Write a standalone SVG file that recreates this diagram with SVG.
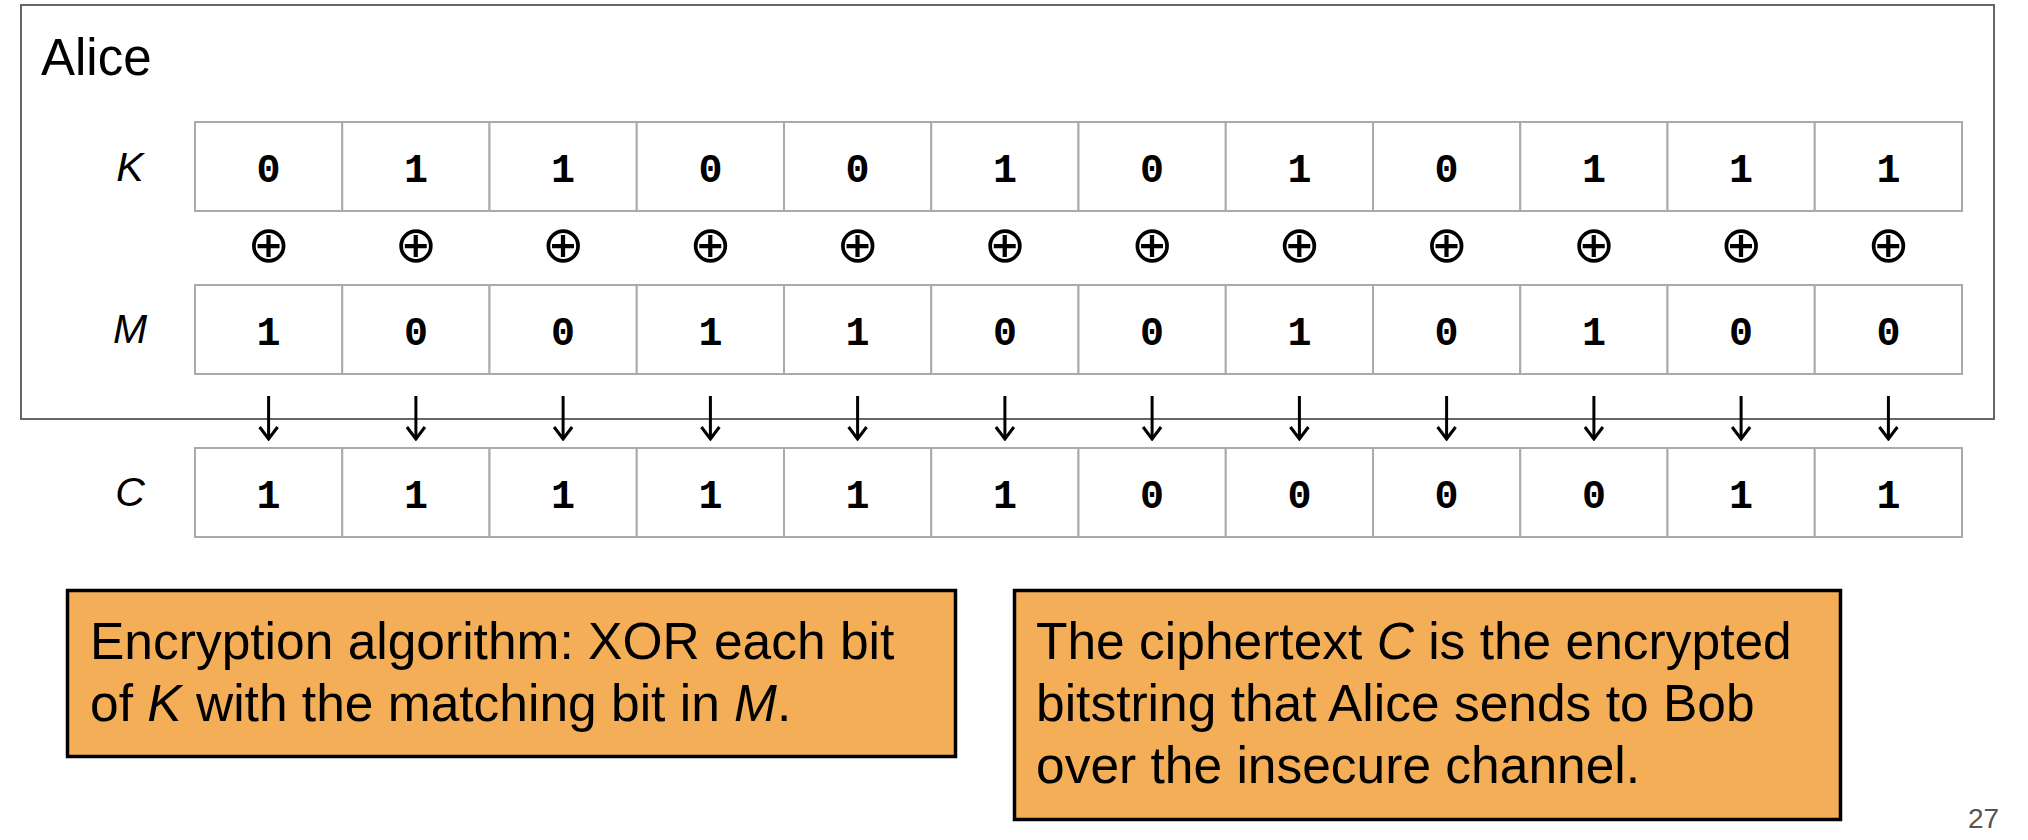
<svg xmlns="http://www.w3.org/2000/svg" width="2028" height="840" viewBox="0 0 2028 840">
<style>
.bg{fill:#ffffff}
.frame{fill:none;stroke:#666666;stroke-width:2}
.cell{fill:#ffffff;stroke:#aaaaaa;stroke-width:2}
.bit{font-family:"Liberation Mono","Courier New",monospace;font-weight:bold;font-size:40px;text-anchor:middle;fill:#000}
.lbl{font-family:"Liberation Sans",Arial,sans-serif;font-style:italic;font-size:41px;text-anchor:middle;fill:#000}
.xor{font-family:"DejaVu Sans",sans-serif;font-size:51px;text-anchor:middle;fill:#000}
.title{font-family:"Liberation Sans",Arial,sans-serif;font-size:51px;fill:#000}
.note{fill:#F4AE58;stroke:#000;stroke-width:3.5}
.nt{font-family:"Liberation Sans",Arial,sans-serif;font-size:51.5px;fill:#000}
.it{font-style:italic}
.arr{fill:none;stroke:#000;stroke-width:3}
.pg{font-family:"Liberation Sans",Arial,sans-serif;font-size:28px;fill:#555555}
</style>
<defs>
<marker id="chev" markerUnits="userSpaceOnUse" viewBox="-2 -2 16 22" markerWidth="16" markerHeight="22" refX="12" refY="9" orient="auto">
<path d="M0,0 L12,9 L0,18" fill="none" stroke="#000" stroke-width="3"/>
</marker>
</defs>
<rect class="bg" x="0" y="0" width="2028" height="840"/>
<g id="alice">
<rect class="frame" x="21" y="5" width="1973" height="414"/>
<text class="title" x="41" y="75">Alice</text>
</g>
<g id="rowK">
<text class="lbl" x="130" y="181">K</text>
<rect class="cell" x="195" y="122" width="147.25" height="89"/>
<rect class="cell" x="342.25" y="122" width="147.25" height="89"/>
<rect class="cell" x="489.5" y="122" width="147.25" height="89"/>
<rect class="cell" x="636.75" y="122" width="147.25" height="89"/>
<rect class="cell" x="784" y="122" width="147.25" height="89"/>
<rect class="cell" x="931.25" y="122" width="147.25" height="89"/>
<rect class="cell" x="1078.5" y="122" width="147.25" height="89"/>
<rect class="cell" x="1225.75" y="122" width="147.25" height="89"/>
<rect class="cell" x="1373" y="122" width="147.25" height="89"/>
<rect class="cell" x="1520.25" y="122" width="147.25" height="89"/>
<rect class="cell" x="1667.5" y="122" width="147.25" height="89"/>
<rect class="cell" x="1814.75" y="122" width="147.25" height="89"/>
<text class="bit" x="268.6" y="182">0</text>
<text class="bit" x="415.9" y="182">1</text>
<text class="bit" x="563.1" y="182">1</text>
<text class="bit" x="710.4" y="182">0</text>
<text class="bit" x="857.6" y="182">0</text>
<text class="bit" x="1004.9" y="182">1</text>
<text class="bit" x="1152.1" y="182">0</text>
<text class="bit" x="1299.4" y="182">1</text>
<text class="bit" x="1446.6" y="182">0</text>
<text class="bit" x="1593.9" y="182">1</text>
<text class="bit" x="1741.1" y="182">1</text>
<text class="bit" x="1888.4" y="182">1</text>
</g>
<g id="xors">
<text class="xor" x="268.6" y="262">⊕</text>
<text class="xor" x="415.9" y="262">⊕</text>
<text class="xor" x="563.1" y="262">⊕</text>
<text class="xor" x="710.4" y="262">⊕</text>
<text class="xor" x="857.6" y="262">⊕</text>
<text class="xor" x="1004.9" y="262">⊕</text>
<text class="xor" x="1152.1" y="262">⊕</text>
<text class="xor" x="1299.4" y="262">⊕</text>
<text class="xor" x="1446.6" y="262">⊕</text>
<text class="xor" x="1593.9" y="262">⊕</text>
<text class="xor" x="1741.1" y="262">⊕</text>
<text class="xor" x="1888.4" y="262">⊕</text>
</g>
<g id="rowM">
<text class="lbl" x="130" y="343">M</text>
<rect class="cell" x="195" y="285" width="147.25" height="89"/>
<rect class="cell" x="342.25" y="285" width="147.25" height="89"/>
<rect class="cell" x="489.5" y="285" width="147.25" height="89"/>
<rect class="cell" x="636.75" y="285" width="147.25" height="89"/>
<rect class="cell" x="784" y="285" width="147.25" height="89"/>
<rect class="cell" x="931.25" y="285" width="147.25" height="89"/>
<rect class="cell" x="1078.5" y="285" width="147.25" height="89"/>
<rect class="cell" x="1225.75" y="285" width="147.25" height="89"/>
<rect class="cell" x="1373" y="285" width="147.25" height="89"/>
<rect class="cell" x="1520.25" y="285" width="147.25" height="89"/>
<rect class="cell" x="1667.5" y="285" width="147.25" height="89"/>
<rect class="cell" x="1814.75" y="285" width="147.25" height="89"/>
<text class="bit" x="268.6" y="345">1</text>
<text class="bit" x="415.9" y="345">0</text>
<text class="bit" x="563.1" y="345">0</text>
<text class="bit" x="710.4" y="345">1</text>
<text class="bit" x="857.6" y="345">1</text>
<text class="bit" x="1004.9" y="345">0</text>
<text class="bit" x="1152.1" y="345">0</text>
<text class="bit" x="1299.4" y="345">1</text>
<text class="bit" x="1446.6" y="345">0</text>
<text class="bit" x="1593.9" y="345">1</text>
<text class="bit" x="1741.1" y="345">0</text>
<text class="bit" x="1888.4" y="345">0</text>
</g>
<g id="connectors">
<path class="arr" marker-end="url(#chev)" d="M268.6,396 V439"/>
<path class="arr" marker-end="url(#chev)" d="M415.9,396 V439"/>
<path class="arr" marker-end="url(#chev)" d="M563.1,396 V439"/>
<path class="arr" marker-end="url(#chev)" d="M710.4,396 V439"/>
<path class="arr" marker-end="url(#chev)" d="M857.6,396 V439"/>
<path class="arr" marker-end="url(#chev)" d="M1004.9,396 V439"/>
<path class="arr" marker-end="url(#chev)" d="M1152.1,396 V439"/>
<path class="arr" marker-end="url(#chev)" d="M1299.4,396 V439"/>
<path class="arr" marker-end="url(#chev)" d="M1446.6,396 V439"/>
<path class="arr" marker-end="url(#chev)" d="M1593.9,396 V439"/>
<path class="arr" marker-end="url(#chev)" d="M1741.1,396 V439"/>
<path class="arr" marker-end="url(#chev)" d="M1888.4,396 V439"/>
</g>
<g id="rowC">
<text class="lbl" x="130" y="506">C</text>
<rect class="cell" x="195" y="448" width="147.25" height="89"/>
<rect class="cell" x="342.25" y="448" width="147.25" height="89"/>
<rect class="cell" x="489.5" y="448" width="147.25" height="89"/>
<rect class="cell" x="636.75" y="448" width="147.25" height="89"/>
<rect class="cell" x="784" y="448" width="147.25" height="89"/>
<rect class="cell" x="931.25" y="448" width="147.25" height="89"/>
<rect class="cell" x="1078.5" y="448" width="147.25" height="89"/>
<rect class="cell" x="1225.75" y="448" width="147.25" height="89"/>
<rect class="cell" x="1373" y="448" width="147.25" height="89"/>
<rect class="cell" x="1520.25" y="448" width="147.25" height="89"/>
<rect class="cell" x="1667.5" y="448" width="147.25" height="89"/>
<rect class="cell" x="1814.75" y="448" width="147.25" height="89"/>
<text class="bit" x="268.6" y="508">1</text>
<text class="bit" x="415.9" y="508">1</text>
<text class="bit" x="563.1" y="508">1</text>
<text class="bit" x="710.4" y="508">1</text>
<text class="bit" x="857.6" y="508">1</text>
<text class="bit" x="1004.9" y="508">1</text>
<text class="bit" x="1152.1" y="508">0</text>
<text class="bit" x="1299.4" y="508">0</text>
<text class="bit" x="1446.6" y="508">0</text>
<text class="bit" x="1593.9" y="508">0</text>
<text class="bit" x="1741.1" y="508">1</text>
<text class="bit" x="1888.4" y="508">1</text>
</g>
<g id="note1">
<rect class="note" x="67.5" y="590.5" width="888" height="166"/>
<text class="nt" x="90" y="659">Encryption algorithm: XOR each bit</text>
<text class="nt" x="90" y="721">of <tspan class="it">K</tspan> with the matching bit in <tspan class="it">M</tspan>.</text>
</g>
<g id="note2">
<rect class="note" x="1014.5" y="590.5" width="826" height="229"/>
<text class="nt" x="1036" y="659">The ciphertext <tspan class="it">C</tspan> is the encrypted</text>
<text class="nt" x="1036" y="721">bitstring that Alice sends to Bob</text>
<text class="nt" x="1036" y="783">over the insecure channel.</text>
</g>
<text class="pg" x="1968" y="828">27</text>
</svg>
